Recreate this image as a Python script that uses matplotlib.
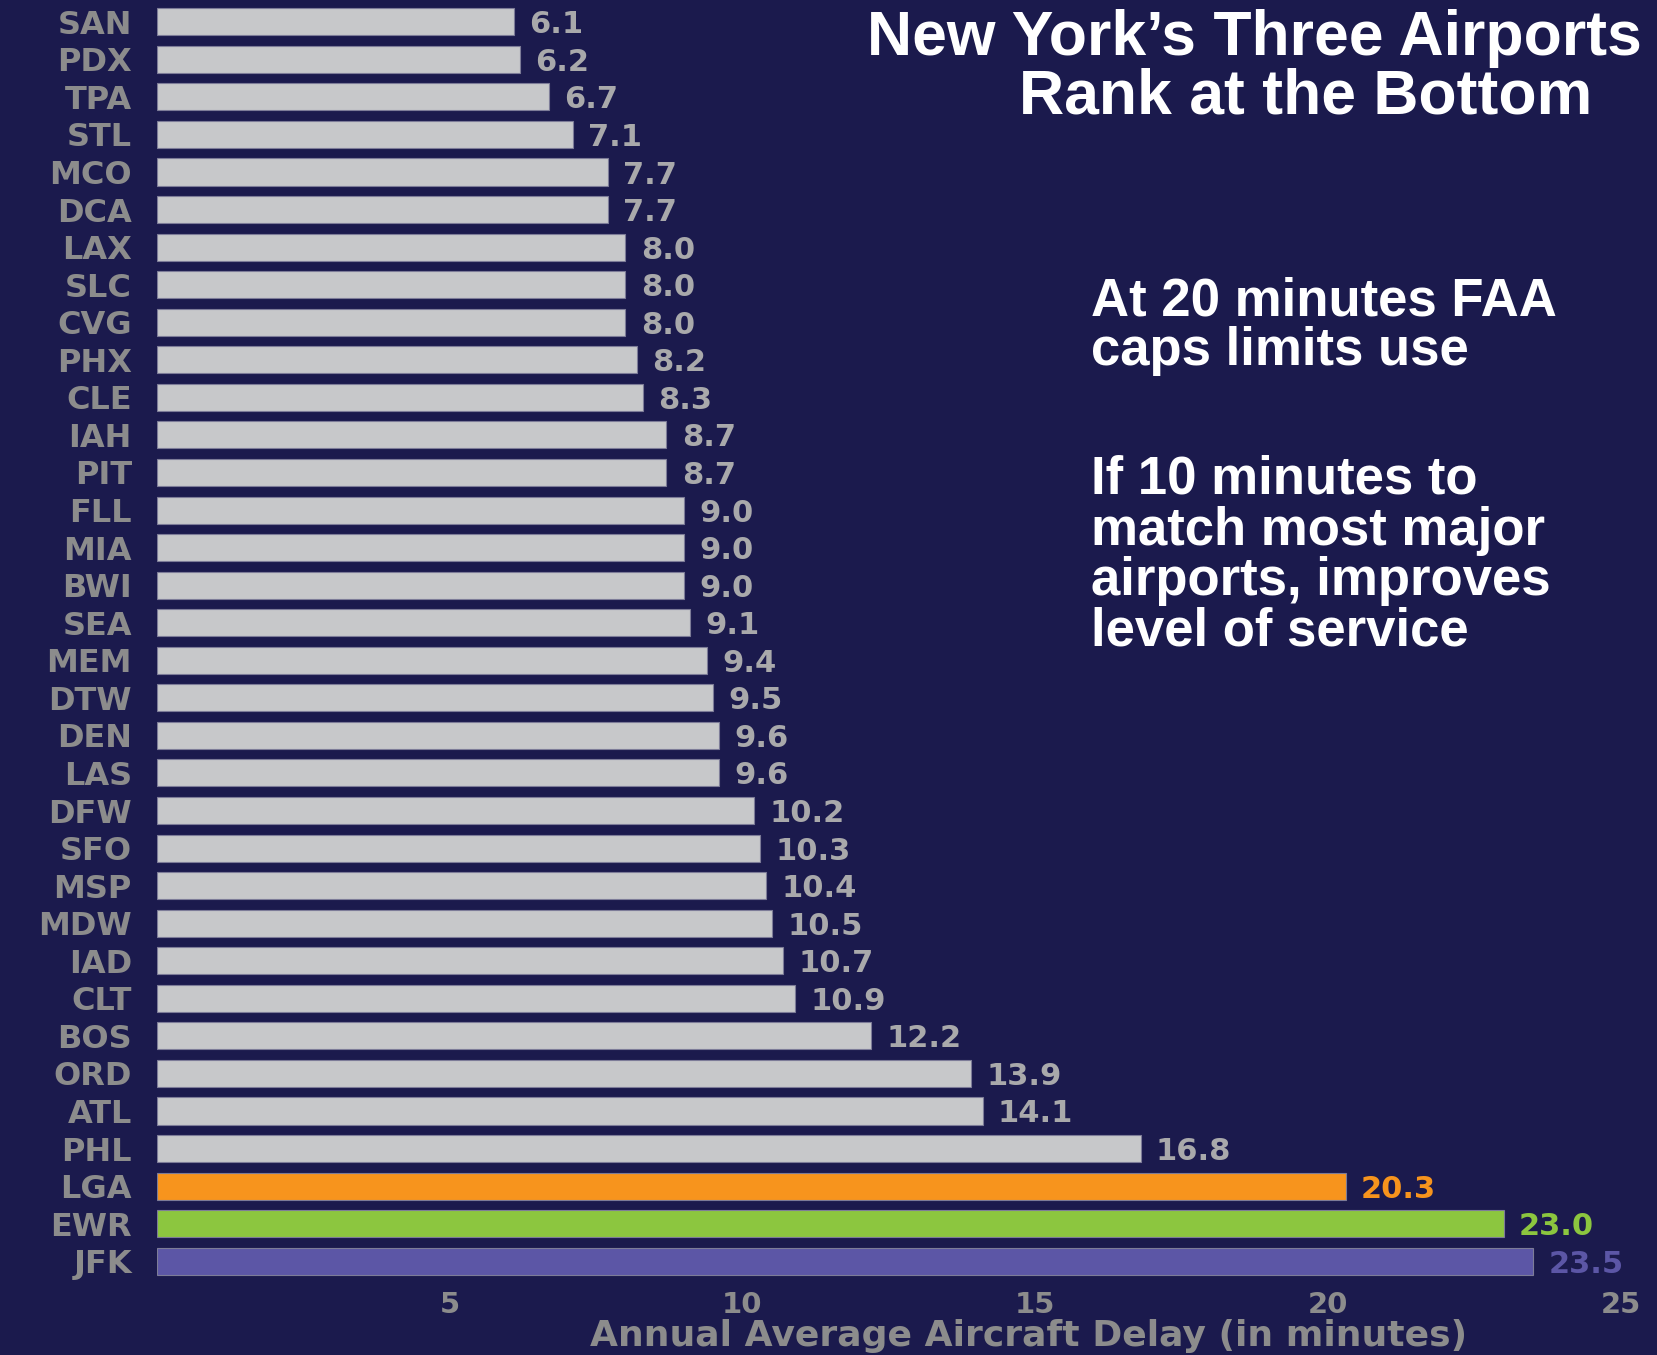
import numpy as np
from matplotlib import pyplot as plt

# airports, best (top) to worst (bottom)
airports = ['SAN', 'PDX', 'TPA', 'STL', 'MCO', 'DCA', 'LAX', 'SLC', 'CVG', 'PHX',
            'CLE', 'IAH', 'PIT', 'FLL', 'MIA', 'BWI', 'SEA', 'MEM', 'DTW', 'DEN',
            'LAS', 'DFW', 'SFO', 'MSP', 'MDW', 'IAD', 'CLT', 'BOS', 'ORD', 'ATL',
            'PHL', 'LGA', 'EWR', 'JFK']
delays = [6.1, 6.2, 6.7, 7.1, 7.7, 7.7, 8.0, 8.0, 8.0, 8.2,
          8.3, 8.7, 8.7, 9.0, 9.0, 9.0, 9.1, 9.4, 9.5, 9.6,
          9.6, 10.2, 10.3, 10.4, 10.5, 10.7, 10.9, 12.2, 13.9, 14.1,
          16.8, 20.3, 23.0, 23.5]
highlight = {'LGA': '#f7941d', 'EWR': '#8cc63f', 'JFK': '#5c56a6'}
xticks = [5, 10, 15, 20, 25]

title_lines = ['New York\u2019s Three Airports', 'Rank at the Bottom']
note1 = ['At 20 minutes FAA', 'caps limits use']
note2 = ['If 10 minutes to', 'match most major', 'airports, improves', 'level of service']

BG = '#1b1a4d'
BAR = '#c7c8ca'
LABEL = '#8c8c8c'
VALUE = '#a9a9ab'

W, H = 1658, 1355
fig = plt.figure(figsize=(W / 100, H / 100), dpi=100, facecolor=BG)
ax = fig.add_axes([157 / W, 1 - 1280 / H, (1650 - 157) / W, (1280 - 3) / H])
ax.set_facecolor(BG)

colors = [highlight.get(a, BAR) for a in airports]
y = np.arange(len(airports))
bars = ax.barh(y, delays, height=0.72, color=colors, edgecolor='#7d7c98', linewidth=0.8)

texts = ax.bar_label(bars, labels=[f'{d:.1f}' for d in delays], padding=11,
                     fontsize=22, fontweight='bold', family='DejaVu Sans', color=VALUE)
for t, a in zip(texts, airports):
    t.set_va('center_baseline')
    if a in highlight:
        t.set_color(highlight[a])

ax.set_ylim(len(airports) - 0.5, -0.5)
ax.set_xlim(0, 25.5)
ax.set_yticks(y)
ax.set_yticklabels(airports, fontsize=23, fontweight='bold', family='DejaVu Sans', color=LABEL)
ax.set_xticks(xticks)
ax.set_xticklabels([str(v) for v in xticks], fontsize=21, fontweight='bold',
                   family='DejaVu Sans', color=LABEL)
ax.tick_params(axis='y', length=0, pad=18)
ax.tick_params(axis='x', length=0, pad=8)
for s in ax.spines.values():
    s.set_visible(False)

fig.text(1029 / W, 1 - 1346 / H, 'Annual Average Aircraft Delay (in minutes)',
         ha='center', va='baseline', fontsize=26, fontweight='bold',
         family='DejaVu Sans', color=LABEL)

# title, two lines
fig.text(867 / W, 1 - 55 / H, title_lines[0], ha='left', va='baseline',
         fontsize=45, fontweight='bold', family='Liberation Sans', color='white')
fig.text(1306 / W, 1 - 114 / H, title_lines[1], ha='center', va='baseline',
         fontsize=45, fontweight='bold', family='Liberation Sans', color='white')

# side notes
for line, base in zip(note1, [315, 365]):
    fig.text(1091 / W, 1 - base / H, line, ha='left', va='baseline',
             fontsize=38, fontweight='bold', family='Liberation Sans', color='white')
for line, base in zip(note2, [494, 545, 595, 645]):
    fig.text(1091 / W, 1 - base / H, line, ha='left', va='baseline',
             fontsize=38, fontweight='bold', family='Liberation Sans', color='white')

fig.savefig('out.png', dpi=100, facecolor=BG)
